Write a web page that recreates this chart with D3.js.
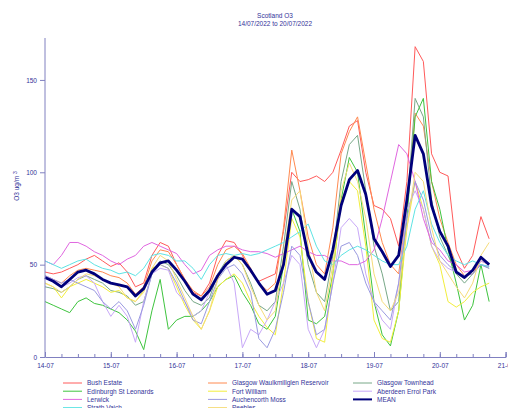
<!DOCTYPE html>
<html>
<head>
<meta charset="utf-8">
<script src="https://cdn.jsdelivr.net/npm/d3@7"></script>
<style>
  body { margin: 0; background: #fff; }
  svg text { font-family: "Liberation Sans", Arial, sans-serif; fill: #333399; }
</style>
</head>
<body>
<div id="chart"></div>
<script>
// hours since 14/07/2022 00:00
const hours = [0,3,6,9,12,15,18,21,24,27,30,33,36,39,42,45,48,51,54,57,60,63,66,69,72,75,78,81,84,87,90,93,96,99,102,105,108,111,114,117,120,123,126,129,132,135,138,141,144,147,150,153,156,159,162];

const bushEstate = [46,45,46,48,50,53,55,52,49,51,46,38,40,55,62,60,50,42,35,33,40,55,63,62,55,46,41,43,45,68,100,95,96,98,95,100,112,125,128,100,82,80,75,60,95,168,160,110,100,98,58,48,55,76,64];
const glasgowWaulk = [44,42,40,44,47,48,47,46,44,43,40,34,38,52,58,57,50,42,36,33,38,50,58,60,56,48,40,36,40,70,112,90,65,50,45,70,110,122,130,105,80,62,50,45,80,132,125,95,75,62,50,44,45,52,50];
const glasgowTownhead = [38,37,35,38,42,44,42,40,36,35,33,28,30,45,52,50,44,36,30,28,32,45,52,55,50,40,28,25,30,60,95,80,50,35,30,55,95,115,120,90,60,45,25,30,80,140,130,85,65,55,45,40,45,50,48];
const edinburgh = [30,28,26,24,30,32,29,28,26,24,20,14,4,25,42,15,20,22,22,25,30,38,42,44,35,28,18,15,22,50,80,68,20,18,22,45,85,108,100,65,30,12,6,25,75,130,140,95,80,58,40,20,28,50,30];
const fortWilliam = [40,38,32,38,40,42,40,38,35,36,32,30,36,48,50,48,38,28,20,15,25,38,42,45,40,30,22,16,12,40,75,65,30,10,8,45,85,95,90,60,20,10,8,25,70,95,80,60,50,30,27,30,35,38,40];
const aberdeen = [44,42,38,40,43,44,40,30,22,28,22,8,30,45,48,47,35,30,22,25,35,45,50,40,5,15,12,20,30,40,55,50,15,5,15,40,70,75,70,45,30,20,15,40,80,90,80,60,52,48,46,44,47,52,50];
const lerwick = [52,50,55,62,62,60,57,55,52,50,53,55,60,62,60,58,56,50,45,47,55,58,60,60,58,57,57,56,54,56,58,60,57,55,55,52,52,50,50,52,58,75,95,115,110,95,75,62,58,52,50,46,47,50,49];
const auchencorth = [44,42,40,42,40,38,36,30,26,30,25,15,28,45,50,48,40,30,20,18,30,42,48,50,45,35,10,5,15,35,60,55,30,12,15,40,60,62,55,40,30,25,20,40,75,95,85,65,55,50,46,44,45,50,48];
const meanO3 = [43,41,38,42,46,47,45,42,40,39,38,33,37,46,51,52,47,41,34,31,36,44,50,54,53,47,40,34,36,50,80,76,55,46,42,58,82,96,101,88,64,57,49,55,85,120,110,82,68,60,46,43,47,54,50];
const strathVaich = [52,50,48,50,52,53,50,48,47,45,46,44,48,55,56,55,52,52,48,42,50,55,56,55,56,55,56,58,60,62,65,68,72,60,52,50,55,58,60,58,55,52,50,50,60,80,90,72,62,55,52,50,52,50,49];
const peebles = [40,38,35,38,42,45,44,42,40,38,32,30,35,48,55,52,42,32,22,15,25,42,52,55,50,38,28,20,25,55,85,90,60,35,25,50,90,105,95,75,45,30,25,35,70,100,95,70,52,45,38,32,40,55,62];

const seriesNames = ["Bush Estate","Glasgow Waulkmillglen Reservoir","Glasgow Townhead","Edinburgh St Leonards","Fort William","Aberdeen Errol Park","Lerwick","Auchencorth Moss","MEAN","Strath Vaich","Peebles"];
const seriesValues = [bushEstate, glasgowWaulk, glasgowTownhead, edinburgh, fortWilliam, aberdeen, lerwick, auchencorth, meanO3, strathVaich, peebles];
const seriesColors = ["#ff5a5a","#ff8a50","#78a888","#3ec43e","#f2ee3c","#c8a8f8","#e066e0","#9a9ae0","#00007a","#5ee4e4","#f6dc7a"];

const yTicks = [0, 50, 100, 150];

const width = 508, height = 408;
const svg = d3.select("#chart").append("svg")
  .attr("width", width).attr("height", height);

const t0 = new Date(2022, 6, 14);
const x = d3.scaleTime()
  .domain([t0, new Date(2022, 6, 21)])
  .range([45, 505.6]);
const y = d3.scaleLinear().domain([0, 172.7]).range([357, 38]);

const axisColor = "#8080c0";

// title
svg.append("text").attr("x", 275).attr("y", 18).attr("text-anchor", "middle")
  .style("font-size", "6.5px").text("Scotland O3");
svg.append("text").attr("x", 275).attr("y", 26).attr("text-anchor", "middle")
  .style("font-size", "6.5px").text("14/07/2022 to 20/07/2022");

// y label
const yl = svg.append("text")
  .attr("transform", "translate(19,186) rotate(-90)")
  .attr("text-anchor", "middle")
  .style("font-size", "6.5px");
yl.append("tspan").text("O3 ug/m ");
yl.append("tspan").attr("dy", "-2").style("font-size", "5px").text("3");

// lines
const line = d3.line()
  .x((d, i) => x(d3.timeHour.offset(t0, hours[i])))
  .y(d => y(d));

const drawOrder = seriesNames.map((n, i) => i).filter(i => seriesNames[i] !== "MEAN");
drawOrder.push(seriesNames.indexOf("MEAN"));

svg.append("g").selectAll("path")
  .data(drawOrder)
  .join("path")
  .attr("d", i => line(seriesValues[i]))
  .attr("fill", "none")
  .attr("stroke", i => seriesColors[i])
  .attr("stroke-width", i => seriesNames[i] === "MEAN" ? 2.8 : 1)
  .attr("stroke-linejoin", "round");

// axes
const yAxis = svg.append("g").attr("transform", "translate(45,0)")
  .call(d3.axisLeft(y).tickValues(yTicks).tickSize(5).tickPadding(3));
yAxis.select(".domain").attr("d", "M0,357V38");

const xMinor = svg.append("g").attr("transform", "translate(0,357)")
  .call(d3.axisBottom(x).ticks(d3.timeHour.every(6)).tickSize(-3).tickFormat(""));
xMinor.select(".domain").remove();

const xAxis = svg.append("g").attr("transform", "translate(0,357)")
  .call(d3.axisBottom(x).ticks(d3.timeDay.every(1)).tickSize(-5).tickPadding(5)
    .tickFormat(d3.timeFormat("%d-%m")));

svg.selectAll(".domain, .tick line").attr("stroke", axisColor);
svg.selectAll(".tick text").style("font-size", "6.5px").attr("fill", "#333399");
xAxis.selectAll(".tick text").attr("dy", "0.9em");

// legend
const legendCols = [63, 208, 353];
const legendRows = [383, 391.2, 399.4, 407.6];
const legend = svg.append("g");
const items = legend.selectAll("g")
  .data(seriesNames.map((n, i) => i))
  .join("g")
  .attr("transform", i => `translate(${legendCols[i % 3]},${legendRows[Math.floor(i / 3)]})`);
items.append("line")
  .attr("x1", 0).attr("x2", 19).attr("y1", 0).attr("y2", 0)
  .attr("stroke", i => seriesColors[i])
  .attr("stroke-width", i => seriesNames[i] === "MEAN" ? 2 : 1);
items.append("text")
  .attr("x", 24).attr("y", 2.3)
  .style("font-size", "6.5px")
  .text(i => seriesNames[i]);
</script>
</body>
</html>
